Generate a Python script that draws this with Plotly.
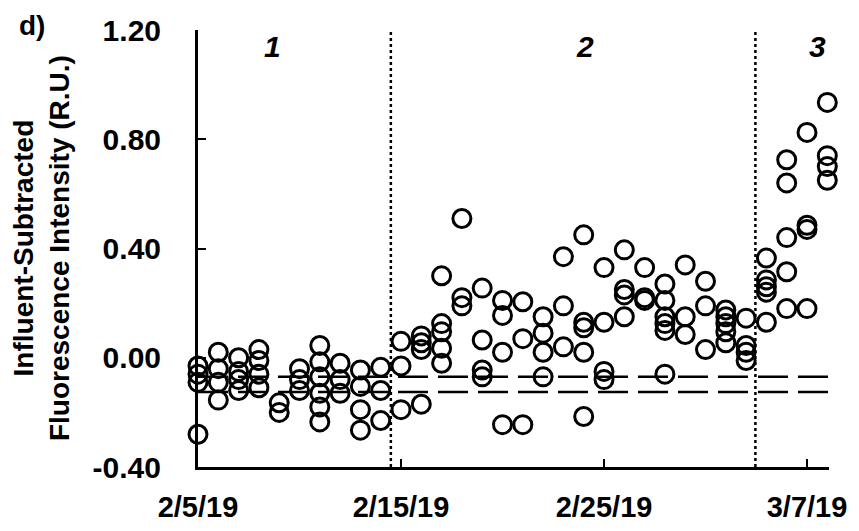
import plotly.graph_objects as go

# sampling days and the influent-subtracted intensities read for each day
sample_dates = [
    "2019-02-05", "2019-02-06", "2019-02-07", "2019-02-08", "2019-02-09",
    "2019-02-10", "2019-02-11", "2019-02-12", "2019-02-13", "2019-02-14",
    "2019-02-15", "2019-02-16", "2019-02-17", "2019-02-18", "2019-02-19",
    "2019-02-20", "2019-02-21", "2019-02-22", "2019-02-23", "2019-02-24",
    "2019-02-25", "2019-02-26", "2019-02-27", "2019-02-28", "2019-03-01",
    "2019-03-02", "2019-03-03", "2019-03-04", "2019-03-05", "2019-03-06",
    "2019-03-07", "2019-03-08",
]
intensity = [
    [-0.03, -0.06, -0.09, -0.28],
    [0.02, -0.04, -0.09, -0.155],
    [0.00, -0.05, -0.08, -0.12],
    [0.03, -0.01, -0.06, -0.11],
    [-0.165, -0.20],
    [-0.04, -0.08, -0.12],
    [0.045, -0.015, -0.07, -0.13, -0.18, -0.235],
    [-0.02, -0.08, -0.13],
    [-0.045, -0.105, -0.19, -0.265],
    [-0.035, -0.12, -0.23],
    [0.06, -0.03, -0.19],
    [0.08, 0.055, 0.03, -0.17],
    [0.30, 0.125, 0.095, 0.035, -0.02],
    [0.51, 0.22, 0.19],
    [0.255, 0.065, -0.045, -0.07],
    [0.21, 0.155, 0.02, -0.245],
    [0.205, 0.07, -0.245],
    [0.15, 0.09, 0.02, -0.07],
    [0.37, 0.19, 0.04],
    [0.45, 0.13, 0.11, 0.02, -0.215],
    [0.33, 0.13, -0.05, -0.08],
    [0.395, 0.25, 0.23, 0.15],
    [0.33, 0.22, 0.21],
    [0.27, 0.21, 0.15, 0.125, 0.10, -0.06],
    [0.34, 0.15, 0.085],
    [0.28, 0.19, 0.03],
    [0.175, 0.15, 0.125, 0.095, 0.055],
    [0.145, 0.045, 0.02, -0.01],
    [0.365, 0.285, 0.26, 0.24, 0.13],
    [0.725, 0.64, 0.44, 0.315, 0.18],
    [0.825, 0.485, 0.47, 0.18],
    [0.935, 0.74, 0.70, 0.65],
]

x_ticks = ["2019-02-05", "2019-02-15", "2019-02-25", "2019-03-07"]
x_ticktext = ["2/5/19", "2/15/19", "2/25/19", "3/7/19"]
y_ticks = [-0.40, 0.00, 0.40, 0.80, 1.20]
y_ticktext = ["-0.40", "0.00", "0.40", "0.80", "1.20"]

phase_breaks = ["2019-02-14 12:00", "2019-03-04 11:00"]
phase_labels = ["1", "2", "3"]
phase_label_x = ["2019-02-08 16:00", "2019-02-24 01:00", "2019-03-07 12:00"]
threshold_levels = [-0.07, -0.125]

xs, ys = [], []
for d, vals in zip(sample_dates, intensity):
    for v in vals:
        xs.append(d)
        ys.append(v)

FONT = "Liberation Sans, Arial, sans-serif"

fig = go.Figure()

fig.add_trace(go.Scatter(
    x=xs, y=ys, mode="markers", cliponaxis=False,
    marker=dict(symbol="circle-open", size=18, color="black",
                line=dict(width=3, color="black")),
    showlegend=False))

# dashed reference levels across the whole record
for lvl in threshold_levels:
    fig.add_shape(type="line", xref="paper", x0=0, x1=1, yref="y", y0=lvl, y1=lvl,
                  line=dict(color="black", width=2.5, dash="30px,10px"), layer="below")

# dotted phase separators
for b in phase_breaks:
    fig.add_shape(type="line", xref="x", x0=b, x1=b, yref="paper", y0=0, y1=1,
                  line=dict(color="black", width=2.5, dash="dot"), layer="below")

for lab, lx in zip(phase_labels, phase_label_x):
    fig.add_annotation(x=lx, y=1.14, text=f"<b><i>{lab}</i></b>", showarrow=False,
                       font=dict(size=30, color="black", family=FONT))

fig.add_annotation(text="<b>d)</b>", xref="paper", yref="paper", x=-0.263, y=1.01,
                   xanchor="center", yanchor="middle", showarrow=False,
                   font=dict(size=28, color="black", family=FONT))

fig.add_annotation(text="<b>Influent-Subtracted<br>Fluorescence Intensity (R.U.)</b>",
                   xref="paper", yref="paper", x=-0.248, y=0.5, textangle=-90,
                   xanchor="center", yanchor="middle", showarrow=False,
                   font=dict(size=28, color="black", family=FONT))

# the page body adds an 8px offset, so the figure is trimmed by that much
fig.update_layout(
    width=851, height=523,
    margin=dict(l=190, r=30, t=22, b=64),
    plot_bgcolor="white", paper_bgcolor="white",
    font=dict(family=FONT, size=30, color="black", weight="bold"),
    xaxis=dict(
        type="date", range=["2019-02-05", "2019-03-08 02:00"],
        tickvals=x_ticks, ticktext=x_ticktext, tickfont=dict(size=29),
        showgrid=False, zeroline=False, showline=True, linecolor="black", linewidth=3,
        ticks="inside", ticklen=8, tickwidth=2, tickcolor="black",
        ticklabelstandoff=12, automargin=False,
    ),
    yaxis=dict(
        range=[-0.40, 1.20], tickvals=y_ticks, ticktext=y_ticktext,
        showgrid=False, zeroline=False, showline=True, linecolor="black", linewidth=3,
        ticks="inside", ticklen=8, tickwidth=2, tickcolor="black",
        ticklabelstandoff=28, automargin=False,
    ),
)

fig.write_html("out.html")
